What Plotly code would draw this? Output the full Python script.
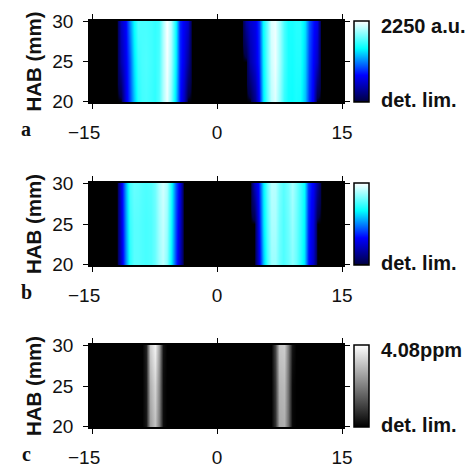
import plotly.graph_objects as go

W, H = 473, 467

# ---------- data ----------
heights = [20, 25, 30]

xa_left = [-12.5, -12, -11.5, -11, -10.5, -10, -9.5, -9, -8.5, -8, -7.5, -7, -6.5, -6, -5.5, -5, -4.5, -4, -3.5, -3, -2.5]
a_left_20 = [0, 0, 0, 650, 950, 1300, 1600, 1680, 1700, 1660, 1620, 1720, 2000, 2200, 1900, 1350, 800, 500, 0, 0, 0]
a_left_25 = [0, 0, 400, 700, 1000, 1400, 1650, 1700, 1720, 1680, 1640, 1700, 2000, 2230, 2000, 1450, 850, 650, 350, 0, 0]
a_left_30 = [0, 0, 500, 750, 1150, 1500, 1720, 1700, 1700, 1680, 1640, 1680, 2000, 2250, 2050, 1500, 850, 700, 550, 0, 0]

xa_right = [3, 3.5, 4, 4.5, 5, 5.5, 6, 6.5, 7, 7.5, 8, 8.5, 9, 9.5, 10, 10.5, 11, 11.5, 12, 12.5, 13]
a_right_20 = [0, 0, 0, 300, 750, 1400, 1750, 2050, 2150, 1900, 1650, 1540, 1520, 1560, 1540, 1300, 900, 700, 0, 0, 0]
a_right_25 = [0, 0, 400, 600, 850, 1450, 1800, 2100, 2200, 1950, 1700, 1560, 1540, 1580, 1580, 1350, 950, 750, 500, 0, 0]
a_right_30 = [0, 400, 550, 650, 900, 1500, 1800, 2150, 2200, 1950, 1700, 1560, 1560, 1600, 1600, 1400, 1000, 800, 650, 0, 0]

xb_left = [-12.5, -12, -11.5, -11, -10.5, -10, -9.5, -9, -8.5, -8, -7.5, -7, -6.5, -6, -5.5, -5, -4.5, -4, -3.5]
b_left_20 = [0, 0, 500, 1150, 1600, 1750, 1750, 1720, 1700, 1720, 1800, 1950, 2050, 1900, 1500, 900, 450, 0, 0]
b_left_25 = [0, 0, 550, 1200, 1650, 1750, 1750, 1720, 1700, 1720, 1800, 1970, 2080, 1950, 1550, 950, 550, 0, 0]
b_left_30 = [0, 0, 600, 1250, 1700, 1800, 1780, 1740, 1720, 1740, 1820, 2000, 2120, 2000, 1600, 1000, 650, 0, 0]

xb_right = [4, 4.5, 5, 5.5, 6, 6.5, 7, 7.5, 8, 8.5, 9, 9.5, 10, 10.5, 11, 11.5, 12, 12.5]
b_right_20 = [0, 0, 550, 1300, 1700, 1950, 1950, 1800, 1720, 1800, 1900, 1800, 1620, 1400, 800, 500, 0, 0]
b_right_25 = [0, 0, 650, 1400, 1750, 2000, 2000, 1820, 1720, 1820, 1950, 1820, 1650, 1450, 850, 600, 0, 0]
b_right_30 = [0, 500, 750, 1450, 1800, 2050, 2030, 1850, 1750, 1850, 2000, 1850, 1680, 1500, 900, 700, 350, 0]

xc_left = [-9, -8.5, -8, -7.5, -7, -6.5, -6]
c_left_20 = [0, 0.35, 2.5, 3.1, 2.0, 0.2, 0]
c_left_25 = [0, 0.4, 2.8, 3.4, 2.2, 0.2, 0]
c_left_30 = [0, 0.5, 3.3, 3.9, 2.6, 0.3, 0]

xc_right = [6.5, 7, 7.5, 8, 8.5, 9, 9.5]
c_right_20 = [0, 0.8, 2.7, 2.8, 1.7, 0.1, 0]
c_right_25 = [0, 0.9, 2.9, 3.0, 1.8, 0.1, 0]
c_right_30 = [0, 1.1, 3.2, 3.3, 2.0, 0.3, 0]

x_ticks = [-15, 0, 15]
x_labels = ["\u221215\u00a0\u00a0\u00a0", "0", "15"]
y_ticks = [20, 25, 30]
panel_letters = ["a", "b", "c"]
bar_top_labels = ["2250 a.u.", "", "4.08ppm"]
bar_bottom_label = "det. lim."

# ---------- styles ----------
BLUES = [[0, "#000000"], [0.02, "#00004a"], [0.1, "#00007a"], [0.33, "#0000ff"], [0.66, "#00ffff"], [1, "#ffffff"]]
GRAYS = [[0, "#000000"], [1, "#ffffff"]]
SANS = "Liberation Sans, Arial, sans-serif"
SERIF = "Liberation Serif, Times New Roman, serif"

panels = [
    dict(top=21, bottom=102, zmax=2250, scale=BLUES,
         left=(xa_left, [a_left_20, a_left_25, a_left_30]),
         right=(xa_right, [a_right_20, a_right_25, a_right_30])),
    dict(top=183, bottom=265, zmax=2250, scale=BLUES,
         left=(xb_left, [b_left_20, b_left_25, b_left_30]),
         right=(xb_right, [b_right_20, b_right_25, b_right_30])),
    dict(top=345, bottom=427, zmax=4.08, scale=GRAYS,
         left=(xc_left, [c_left_20, c_left_25, c_left_30]),
         right=(xc_right, [c_right_20, c_right_25, c_right_30])),
]

PLOT_L, PLOT_R = 90, 343
BAR_L, BAR_W = 354, 15

fig = go.Figure()
layout_axes = {}
annotations = []

for i, p in enumerate(panels):
    suffix = "" if i == 0 else str(i + 1)
    xref, yref = f"x{suffix}", f"y{suffix}"
    span = (p["bottom"] - p["top"]) / H
    for side, show in (("left", True), ("right", False)):
        xs, rows = p[side]
        trace = dict(
            x=xs, y=heights, z=rows, xaxis=xref, yaxis=yref,
            zmin=0, zmax=p["zmax"], colorscale=p["scale"], zsmooth="best",
            hoverinfo="skip", showscale=show,
        )
        if show:
            trace["colorbar"] = dict(
                x=BAR_L / W, xanchor="left", xpad=0, ypad=0,
                y=1 - p["top"] / H, yanchor="top",
                len=span, lenmode="fraction",
                thickness=BAR_W, thicknessmode="pixels",
                outlinecolor="black", outlinewidth=1.5,
                ticks="", showticklabels=False,
            )
        fig.add_trace(go.Heatmap(**trace))

    layout_axes[f"xaxis{suffix}"] = dict(
        domain=[PLOT_L / W, PLOT_R / W], range=[-15.24, 15.12], anchor=yref,
        automargin=False,
        tickmode="array", tickvals=x_ticks, ticktext=x_labels,
        ticks="outside", ticklen=5, tickwidth=1, tickcolor="black",
        showline=True, linecolor="black", linewidth=1.5, mirror="ticks",
        showgrid=False, zeroline=False, ticklabelstandoff=7,
        tickfont=dict(family=SANS, size=19, color="#111"),
    )
    layout_axes[f"yaxis{suffix}"] = dict(
        domain=[1 - p["bottom"] / H, 1 - p["top"] / H], range=[19.96, 30.04], anchor=xref,
        automargin=True,
        tickmode="array", tickvals=y_ticks,
        ticks="outside", ticklen=5, tickwidth=1, tickcolor="black",
        showline=True, linecolor="black", linewidth=1.5, mirror="ticks",
        showgrid=False, zeroline=False, ticklabelstandoff=6,
        tickfont=dict(family=SANS, size=19, color="#111"),
        title=dict(text="<b>HAB (mm)</b>", standoff=5,
                   font=dict(family=SANS, size=20.5, color="#111")),
    )
    annotations.append(dict(
        text=f"<b>{panel_letters[i]}</b>", xref="paper", yref="paper",
        x=26 / W, y=1 - (p["bottom"] + 27) / H, xanchor="center", yanchor="middle",
        borderpad=0, showarrow=False, font=dict(family=SERIF, size=20, color="#111"),
    ))
    if bar_top_labels[i]:
        annotations.append(dict(
            text=f"<b>{bar_top_labels[i]}</b>", xref="paper", yref="paper",
            x=379 / W, y=1 - (p["top"] + 5) / H, xanchor="left", yanchor="middle",
            showarrow=False, font=dict(family=SANS, size=20, color="#111"),
        ))
    annotations.append(dict(
        text=f"<b>{bar_bottom_label}</b>", xref="paper", yref="paper",
        x=379 / W, y=1 - (p["bottom"] - 2) / H, xanchor="left", yanchor="middle",
        showarrow=False, font=dict(family=SANS, size=20, color="#111"),
    ))

fig.update_layout(
    width=W, height=H, autosize=False,
    margin=dict(l=0, r=0, t=0, b=0, pad=0, autoexpand=False),
    paper_bgcolor="white", plot_bgcolor="black",
    annotations=annotations, showlegend=False,
    **layout_axes,
)
fig.write_html("out.html", config=dict(displayModeBar=False),
               post_script="document.body.style.margin='0';document.body.style.overflow='hidden';")
